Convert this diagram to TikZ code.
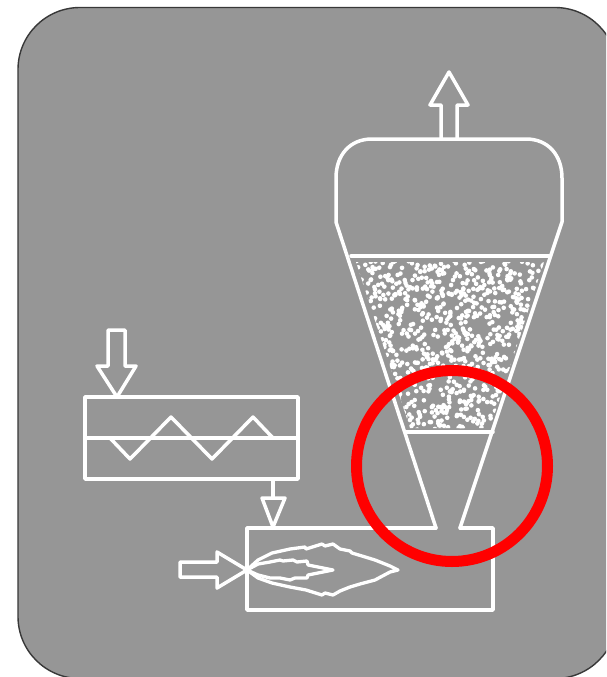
\documentclass[tikz,border=0pt]{standalone}
\begin{document}
\begin{tikzpicture}[x=1pt,y=-1pt,
  wl/.style={draw=white,line width=3.5pt,line join=round,line cap=round},
  fl/.style={draw=white,line width=3.3pt,line join=round,line cap=round}]
\definecolor{panelgray}{HTML}{969696}
\definecolor{paneledge}{HTML}{383838}
\useasboundingbox (0,0) rectangle (606,677);
\fill[white] (0,0) rectangle (606,677);
\begin{scope}
\clip (0,0) rectangle (606,677);
\draw[fill=panelgray,draw=paneledge,line width=1.4pt,rounded corners=62pt] (18,7.5) rectangle (617,678.5);
% dots
\begin{scope}
\clip (356,262) -- (544,262) -- (490,428) -- (410,428) -- cycle;
\pgfmathsetseed{4217}
\foreach \i in {1,...,1050}{
  \pgfmathsetmacro{\dx}{354+192*rnd}
  \pgfmathsetmacro{\dy}{261+169*rnd}
  \fill[white] (\dx,\dy) circle (2.3pt);
}
\end{scope}
% cyclone
\draw[wl] (436,528) -- (336,222) -- (336,178) .. controls (336,155) and (350,139) .. (372,139) -- (526,139) .. controls (548,139) and (562,155) .. (562,178) -- (562,222) -- (460,528);
\draw[wl] (351,256) -- (549,256);
\draw[wl] (406,432) -- (493,432);
% outlet arrow
\draw[wl] (441,139) -- (441,105) -- (430,105) -- (449,72) -- (468,105) -- (457,105) -- (457,139);
% screw feeder
\draw[wl] (85,397) rectangle (298,479);
\draw[wl] (85,438) -- (298,438);
\draw[wl] (110,438) -- (130,459) -- (171,417) -- (212,459) -- (253,417) -- (273,438);
\draw[wl] (108,366) -- (108,330) -- (125,330) -- (125,366) -- (136,366) -- (117,397) -- (97,366) -- cycle;
% drop arrow
\draw[wl] (273,479) -- (273,498);
\draw[wl] (262,498) -- (285,498) -- (273,527) -- cycle;
% furnace
\draw[wl] (436,528) -- (247,528) -- (247,610) -- (493,610) -- (493,528) -- (460,528);
% air arrow
\draw[wl] (247,570) -- (217,552) -- (217,562) -- (180,562) -- (180,577) -- (217,577) -- (217,588) -- cycle;
% flames
\draw[fl] (247,570) -- (258,560) -- (272,553) -- (290,549) -- (305,547) -- (306,549) -- (322,544) -- (325,546) -- (333,544) -- (340,549) -- (350,551) -- (352,553) -- (362,556) -- (375,560) -- (390,566) -- (398,570)
 -- (390,572) -- (375,580) -- (360,584) -- (350,587) -- (340,591) -- (333,595) -- (325,593) -- (322,595) -- (306,590) -- (290,587) -- (272,583) -- (258,578) -- cycle;
\draw[fl] (247,570) -- (258,564) -- (270,562) -- (280,560) -- (283,561) -- (293,560) -- (297,562) -- (307,561) -- (308,565) -- (333,570) -- (308,575) -- (307,578) -- (295,578) -- (290,580) -- (280,578) -- (270,578) -- (258,575) -- cycle;
% red ring
\draw[red,line width=11pt] (452,466) circle (95.5);
\end{scope}
\end{tikzpicture}
\end{document}
